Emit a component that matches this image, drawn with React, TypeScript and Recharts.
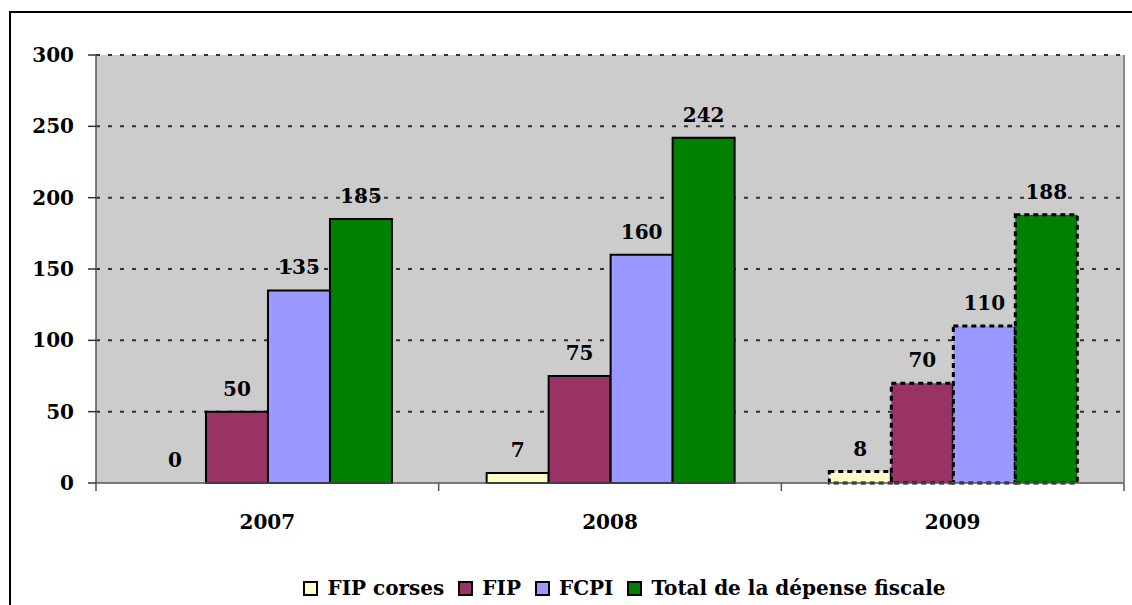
import React from 'react';
import { BarChart, Bar, XAxis, YAxis, CartesianGrid, Cell, LabelList, Legend } from 'recharts';

const categories = ['2007', '2008', '2009'];
const fipCorses = [0, 7, 8];
const fip = [50, 75, 70];
const fcpi = [135, 160, 110];
const total = [185, 242, 188];
const yTicks = [0, 50, 100, 150, 200, 250, 300];

const seriesNames = ['FIP corses', 'FIP', 'FCPI', 'Total de la dépense fiscale'];
const seriesKeys = ['fipCorses', 'fip', 'fcpi', 'total'];
const seriesColors = ['#FFFFCC', '#993366', '#9999FF', '#008000'];
const dashedCategory = '2009';

const data = categories.map((c, i) => ({
  year: c,
  fipCorses: fipCorses[i],
  fip: fip[i],
  fcpi: fcpi[i],
  total: total[i],
}));

const FONT = '"DejaVu Serif", serif';
const FS = 20;

const XTick = (props: any) => {
  const { x, y, payload, index } = props;
  const off = payload.offset || 0;
  return (
    <g>
      <line x1={x - off} y1={y} x2={x - off} y2={y + 8} stroke="#555" strokeWidth={1.5} />
      {index === categories.length - 1 && (
        <line x1={x + off} y1={y} x2={x + off} y2={y + 8} stroke="#555" strokeWidth={1.5} />
      )}
      <text x={x} y={y + 46} textAnchor="middle" fontFamily={FONT} fontWeight="bold" fontSize={FS} fill="#000">
        {payload.value}
      </text>
    </g>
  );
};

const renderLegend = () => (
  <div style={{ display: 'flex', justifyContent: 'center', alignItems: 'center', height: 30, paddingLeft: 117, boxSizing: 'border-box', fontFamily: FONT, fontWeight: 'bold', fontSize: 20, color: '#000' }}>
    {seriesNames.map((n, i) => (
      <div key={n} style={{ display: 'flex', alignItems: 'center', marginRight: i < seriesNames.length - 1 ? 14 : 0 }}>
        <div style={{ width: 11, height: 11, background: seriesColors[i], border: '2px solid #000', marginRight: 9 }} />
        <span style={{ lineHeight: '30px' }}>{n}</span>
      </div>
    ))}
  </div>
);

export default function App() {
  return (
    <div style={{ position: 'absolute', left: 0, top: 0, width: 1132, height: 605, overflow: 'hidden', background: '#fff' }}>
      <div style={{ position: 'absolute', left: 9, top: 11, width: 1200, height: 700, border: '2px solid #000' }} />
      <div style={{ position: 'absolute', left: 0, top: 0 }}>
        <BarChart
          width={1132}
          height={605}
          data={data}
          margin={{ top: 55, right: 4, bottom: 2, left: 0 }}
          barCategoryGap="14%"
          barGap={0}
        >
          <CartesianGrid
            vertical={false}
            fill="#CCCCCC"
            stroke="#333"
            strokeWidth={2}
            strokeDasharray="4 8"
            horizontalValues={[50, 100, 150, 200, 250, 300]}
          />
          <XAxis
            dataKey="year"
            height={90}
            axisLine={{ stroke: '#555', strokeWidth: 1.5 }}
            tickLine={false}
            tickSize={0}
            tickMargin={0}
            tick={<XTick />}
            interval={0}
          />
          <YAxis
            width={96}
            domain={[0, 300]}
            ticks={yTicks}
            interval={0}
            axisLine={{ stroke: '#555', strokeWidth: 1.5 }}
            tickLine={{ stroke: '#333', strokeWidth: 1.5 }}
            tickSize={8}
            tickMargin={14}
            tick={{ fontFamily: FONT, fontWeight: 'bold', fontSize: FS, fill: '#000' }}
          />
          <YAxis
            yAxisId="right"
            orientation="right"
            width={4}
            domain={[0, 300]}
            tick={false}
            tickLine={false}
            axisLine={{ stroke: '#888', strokeWidth: 2 }}
          />
          <Legend verticalAlign="bottom" content={renderLegend} wrapperStyle={{ left: 0, width: 1132, height: 30 }} />
          {seriesKeys.map((k, si) => (
            <Bar
              key={k}
              dataKey={k}
              name={seriesNames[si]}
              fill={seriesColors[si]}
              stroke="#000"
              strokeWidth={2}
              minPointSize={(v: number) => (v === 0 ? 0.5 : 0)}
              isAnimationActive={false}
            >
              {data.map((d) => {
                const v = (d as any)[k] as number;
                return (
                  <Cell
                    key={d.year}
                    fill={v === 0 ? 'none' : seriesColors[si]}
                    stroke={v === 0 ? 'none' : '#000'}
                    strokeWidth={d.year === dashedCategory ? 3 : 2}
                    strokeDasharray={d.year === dashedCategory ? '5 4' : undefined}
                  />
                );
              })}
              <LabelList
                dataKey={k}
                position="top"
                offset={16}
                style={{ fontFamily: FONT, fontWeight: 'bold', fontSize: FS, fill: '#000' }}
              />
            </Bar>
          ))}
        </BarChart>
      </div>
    </div>
  );
}
